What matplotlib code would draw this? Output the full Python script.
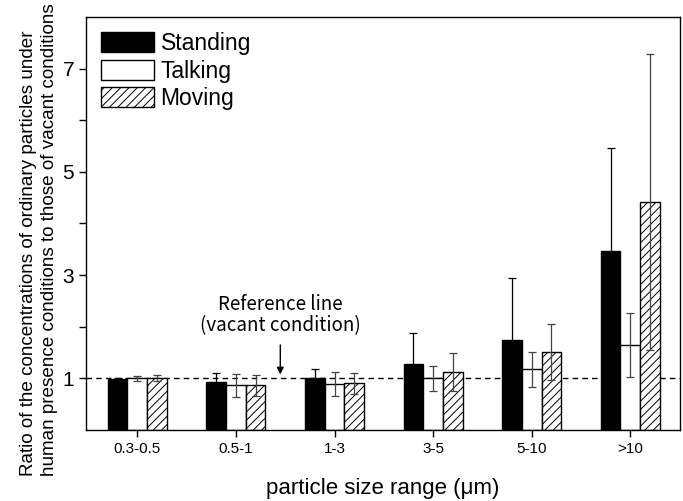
import numpy as np
import matplotlib.pyplot as plt

plt.rcParams['font.family'] = ['Liberation Sans', 'DejaVu Sans']
plt.rcParams['hatch.linewidth'] = 0.7
plt.rcParams['hatch.color'] = '#555555'

# data
size_ranges = ['0.3-0.5', '0.5-1', '1-3', '3-5', '5-10', '>10']
standing = [0.99, 0.92, 1.00, 1.28, 1.75, 3.46]
standing_err = [0.02, 0.18, 0.18, 0.60, 1.20, 2.01]
talking = [1.00, 0.86, 0.89, 1.00, 1.17, 1.64]
talking_err = [0.05, 0.22, 0.23, 0.24, 0.34, 0.62]
moving = [1.00, 0.86, 0.90, 1.12, 1.51, 4.42]
moving_err = [0.06, 0.20, 0.20, 0.36, 0.54, 2.87]

x = np.arange(len(size_ranges))
w = 0.2

fig = plt.figure(figsize=(6.83, 5.01), dpi=100)
ax = fig.add_axes([0.126, 0.142, 0.869, 0.824])

ax.axhline(1, color='black', ls='--', lw=1, dashes=(4, 3), zorder=1)

ekw = dict(ecolor='#444444', elinewidth=0.9, capsize=2.7, capthick=0.9)
ekw_black = dict(ekw, ecolor='black')
ax.bar(x - w, standing, w, yerr=standing_err, color='black', edgecolor='black',
       lw=1, label='Standing', error_kw=ekw_black, zorder=2)
ax.bar(x, talking, w, yerr=talking_err, color='white', edgecolor='black',
       lw=1, label='Talking', error_kw=ekw, zorder=2)
ax.bar(x + w, moving, w, yerr=moving_err, color='white', edgecolor='black',
       lw=1, hatch='////', label='Moving', error_kw=ekw, zorder=2)

# reference line note
ax.text(1.45, 1.81, 'Reference line\n(vacant condition)', ha='center', va='bottom',
        fontsize=13.5, linespacing=1.05,
        family=['Noto Sans CJK KR', 'DejaVu Sans'])
ax.annotate('', xy=(1.45, 1.02), xytext=(1.45, 1.70),
            arrowprops=dict(arrowstyle='-|>', color='black', lw=1,
                            mutation_scale=10))

ax.set_xlim(-0.52, 5.5)
ax.set_ylim(0, 8)
ax.set_xticks(x)
ax.set_xticklabels(size_ranges, fontsize=11)
ax.set_yticks(range(1, 8))
ax.set_yticklabels(['1', '', '3', '', '5', '', '7'], fontsize=15)
ax.tick_params(direction='out', length=5, width=1)
for s in ax.spines.values():
    s.set_linewidth(1)

ax.set_xlabel('particle size range (\u03bcm)', fontsize=16, labelpad=16)
ax.set_ylabel('Ratio of the concentrations of ordinary particles under\n'
              'human presence conditions to those of vacant conditions',
              fontsize=13.6, linespacing=1.3, multialignment='left')
ax.yaxis.set_label_coords(-0.047, 0.462)

ax.legend(loc='upper left', frameon=False, fontsize=16.5, handlelength=2.3,
          handleheight=0.95, handletextpad=0.3, labelspacing=0.2,
          borderaxespad=0.25)

fig.savefig('out.png', dpi=100)
